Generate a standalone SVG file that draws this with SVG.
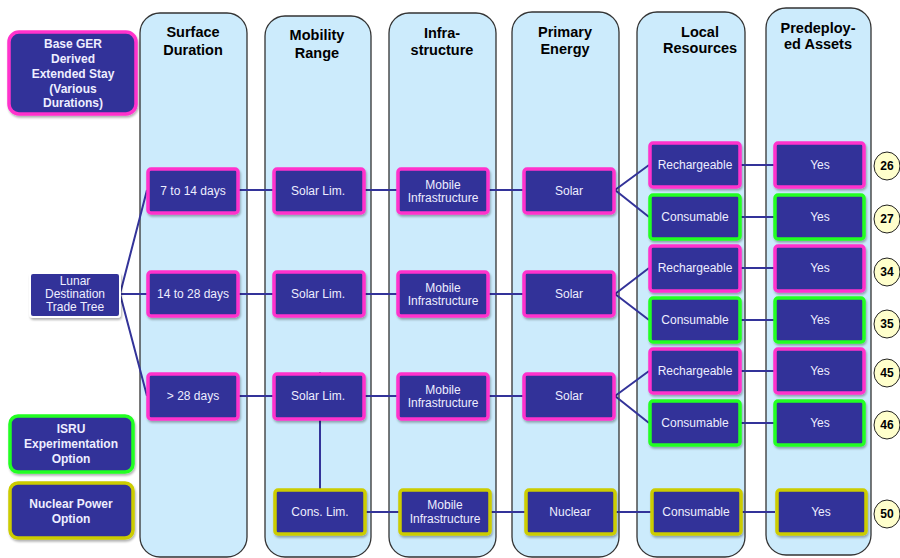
<svg xmlns="http://www.w3.org/2000/svg" width="900" height="558" viewBox="0 0 900 558">
<defs>
<filter id="sh" x="-10%" y="-10%" width="130%" height="140%">
<feDropShadow dx="1" dy="2" stdDeviation="1.2" flood-color="#000" flood-opacity="0.3"/>
</filter>
<style>
.col{fill:#CCEBFC;stroke:#333;stroke-width:1.3}
.hdr{font-family:"Liberation Sans",Arial,sans-serif;font-weight:bold;font-size:14.5px;fill:#000;text-anchor:middle}
.n{fill:#333399;stroke-width:3.5;filter:url(#sh)}
.m{stroke:#FF33CC}
.g{stroke:#22FF22}
.y{stroke:#CCCC00}
.w{stroke:#fff;stroke-width:2}
.t{font-family:"Liberation Sans",Arial,sans-serif;font-size:12px;fill:#EEEEFF;text-anchor:middle}
.b{font-family:"Liberation Sans",Arial,sans-serif;font-size:12px;font-weight:bold;fill:#EEEEFF;text-anchor:middle}
.c{fill:#FFFFCC;stroke:#222;stroke-width:1}
.ct{font-family:"Liberation Sans",Arial,sans-serif;font-size:12px;font-weight:bold;fill:#000;text-anchor:middle}
.ln{stroke:#333399;stroke-width:2;fill:none}
</style>
</defs>
<rect width="900" height="558" fill="#fff"/>
<g id="columns">
<rect class="col" x="140" y="13" width="107" height="544" rx="20"/>
<rect class="col" x="265" y="16" width="106" height="541" rx="20"/>
<rect class="col" x="389" y="13" width="107" height="544" rx="20"/>
<rect class="col" x="512" y="12" width="107" height="545" rx="20"/>
<rect class="col" x="637" y="12" width="108" height="545" rx="20"/>
<rect class="col" x="766" y="8" width="105" height="547" rx="20"/>
<text class="hdr" x="193" y="37">Surface</text><text class="hdr" x="193" y="55">Duration</text>
<text class="hdr" x="317" y="40">Mobility</text><text class="hdr" x="317" y="58">Range</text>
<text class="hdr" x="442" y="38">Infra-</text><text class="hdr" x="442" y="55">structure</text>
<text class="hdr" x="565" y="37">Primary</text><text class="hdr" x="565" y="54">Energy</text>
<text class="hdr" x="700" y="37">Local</text><text class="hdr" x="700" y="53">Resources</text>
<text class="hdr" x="818" y="33">Predeploy-</text><text class="hdr" x="818" y="49">ed Assets</text>
</g>
<g id="connectors">
<path class="ln" d="M120 294 L147 190 M120 294 L147 294 M120 294 L147 396"/>
<path class="ln" d="M238 190 H273 M364 190 H398 M489 190 H523 M615 190 L649 165 M615 190 L649 217 M741 165 H774 M741 217 H774"/>
<path class="ln" d="M238 294 H273 M364 294 H398 M489 294 H523 M615 294 L649 268 M615 294 L649 320 M741 268 H774 M741 320 H774"/>
<path class="ln" d="M238 396 H273 M364 396 H398 M489 396 H523 M615 396 L649 371 M615 396 L649 423 M741 371 H774 M741 423 H774"/>
<path class="ln" d="M320 372 V489 M366 512 H399 M491 512 H525 M616 512 H651 M742 512 H775"/>
</g>
<g id="legend-base"><rect class="n m" x="9" y="32" width="127" height="82" rx="10"/>
<text class="b" x="73" y="48">Base GER</text><text class="b" x="73" y="63">Derived</text><text class="b" x="73" y="78">Extended Stay</text><text class="b" x="73" y="93">(Various</text><text class="b" x="73" y="107">Durations)</text></g>
<g id="lunar"><rect class="n w" x="30" y="273" width="90" height="44" rx="3"/>
<text class="t" x="75" y="285">Lunar</text><text class="t" x="75" y="298">Destination</text><text class="t" x="75" y="311">Trade Tree</text></g>
<g id="legend-isru"><rect class="n g" x="10" y="416" width="123" height="56" rx="8"/>
<text class="b" x="71" y="433">ISRU</text><text class="b" x="71" y="448">Experimentation</text><text class="b" x="71" y="463">Option</text></g>
<g id="legend-nuclear"><rect class="n y" x="10" y="483" width="123" height="55" rx="8"/>
<text class="b" x="71" y="508">Nuclear Power</text><text class="b" x="71" y="523">Option</text></g>

<g id="d1"><rect class="n m" x="148" y="169" width="90" height="44" rx="3"/><text class="t" x="193" y="195">7 to 14 days</text></g>
<g id="d2"><rect class="n m" x="148" y="272" width="90" height="44" rx="3"/><text class="t" x="193" y="298">14 to 28 days</text></g>
<g id="d3"><rect class="n m" x="148" y="374" width="90" height="45" rx="3"/><text class="t" x="193" y="400">&gt; 28 days</text></g>

<g id="m1"><rect class="n m" x="274" y="169" width="90" height="44" rx="3"/><text class="t" x="318" y="195">Solar Lim.</text></g>
<g id="m2"><rect class="n m" x="274" y="272" width="90" height="44" rx="3"/><text class="t" x="318" y="298">Solar Lim.</text></g>
<g id="m3"><rect class="n m" x="274" y="374" width="90" height="45" rx="3"/><text class="t" x="318" y="400">Solar Lim.</text></g>
<g id="m4"><rect class="n y" x="275" y="490" width="90" height="44" rx="3"/><text class="t" x="320" y="516">Cons. Lim.</text></g>

<g id="i1"><rect class="n m" x="398" y="169" width="90" height="44" rx="3"/><text class="t" x="443" y="189">Mobile</text><text class="t" x="443" y="202">Infrastructure</text></g>
<g id="i2"><rect class="n m" x="398" y="272" width="90" height="44" rx="3"/><text class="t" x="443" y="292">Mobile</text><text class="t" x="443" y="305">Infrastructure</text></g>
<g id="i3"><rect class="n m" x="398" y="374" width="90" height="45" rx="3"/><text class="t" x="443" y="394">Mobile</text><text class="t" x="443" y="407">Infrastructure</text></g>
<g id="i4"><rect class="n y" x="400" y="490" width="90" height="44" rx="3"/><text class="t" x="445" y="509">Mobile</text><text class="t" x="445" y="523">Infrastructure</text></g>

<g id="p1"><rect class="n m" x="524" y="169" width="90" height="44" rx="3"/><text class="t" x="569" y="195">Solar</text></g>
<g id="p2"><rect class="n m" x="524" y="272" width="90" height="44" rx="3"/><text class="t" x="569" y="298">Solar</text></g>
<g id="p3"><rect class="n m" x="524" y="374" width="90" height="45" rx="3"/><text class="t" x="569" y="400">Solar</text></g>
<g id="p4"><rect class="n y" x="526" y="490" width="89" height="44" rx="3"/><text class="t" x="570" y="516">Nuclear</text></g>

<g id="r1"><rect class="n m" x="650" y="143" width="90" height="44" rx="3"/><text class="t" x="695" y="169">Rechargeable</text></g>
<g id="c1"><rect class="n g" x="650" y="195" width="90" height="44" rx="3"/><text class="t" x="695" y="221">Consumable</text></g>
<g id="r2"><rect class="n m" x="650" y="246" width="90" height="45" rx="3"/><text class="t" x="695" y="272">Rechargeable</text></g>
<g id="c2"><rect class="n g" x="650" y="298" width="90" height="44" rx="3"/><text class="t" x="695" y="324">Consumable</text></g>
<g id="r3"><rect class="n m" x="650" y="349" width="90" height="44" rx="3"/><text class="t" x="695" y="375">Rechargeable</text></g>
<g id="c3"><rect class="n g" x="650" y="401" width="90" height="44" rx="3"/><text class="t" x="695" y="427">Consumable</text></g>
<g id="c4"><rect class="n y" x="652" y="490" width="89" height="44" rx="3"/><text class="t" x="696" y="516">Consumable</text></g>

<g id="y1"><rect class="n m" x="775" y="143" width="89" height="44" rx="3"/><text class="t" x="820" y="169">Yes</text></g>
<g id="y2"><rect class="n g" x="775" y="195" width="89" height="44" rx="3"/><text class="t" x="820" y="221">Yes</text></g>
<g id="y3"><rect class="n m" x="775" y="246" width="89" height="45" rx="3"/><text class="t" x="820" y="272">Yes</text></g>
<g id="y4"><rect class="n g" x="775" y="298" width="89" height="44" rx="3"/><text class="t" x="820" y="324">Yes</text></g>
<g id="y5"><rect class="n m" x="775" y="349" width="89" height="44" rx="3"/><text class="t" x="820" y="375">Yes</text></g>
<g id="y6"><rect class="n g" x="775" y="401" width="89" height="44" rx="3"/><text class="t" x="820" y="427">Yes</text></g>
<g id="y7"><rect class="n y" x="777" y="490" width="89" height="44" rx="3"/><text class="t" x="821" y="516">Yes</text></g>

<g id="n26"><ellipse class="c" cx="887" cy="166" rx="13" ry="14"/><text class="ct" x="887" y="170">26</text></g>
<g id="n27"><ellipse class="c" cx="887" cy="219" rx="13" ry="14"/><text class="ct" x="887" y="223">27</text></g>
<g id="n34"><ellipse class="c" cx="887" cy="272" rx="13" ry="14"/><text class="ct" x="887" y="276">34</text></g>
<g id="n35"><ellipse class="c" cx="887" cy="324" rx="13" ry="14"/><text class="ct" x="887" y="328">35</text></g>
<g id="n45"><ellipse class="c" cx="887" cy="373" rx="13" ry="14"/><text class="ct" x="887" y="377">45</text></g>
<g id="n46"><ellipse class="c" cx="887" cy="425" rx="13" ry="14"/><text class="ct" x="887" y="429">46</text></g>
<g id="n50"><ellipse class="c" cx="887" cy="514" rx="13" ry="14"/><text class="ct" x="887" y="518">50</text></g>
</svg>
